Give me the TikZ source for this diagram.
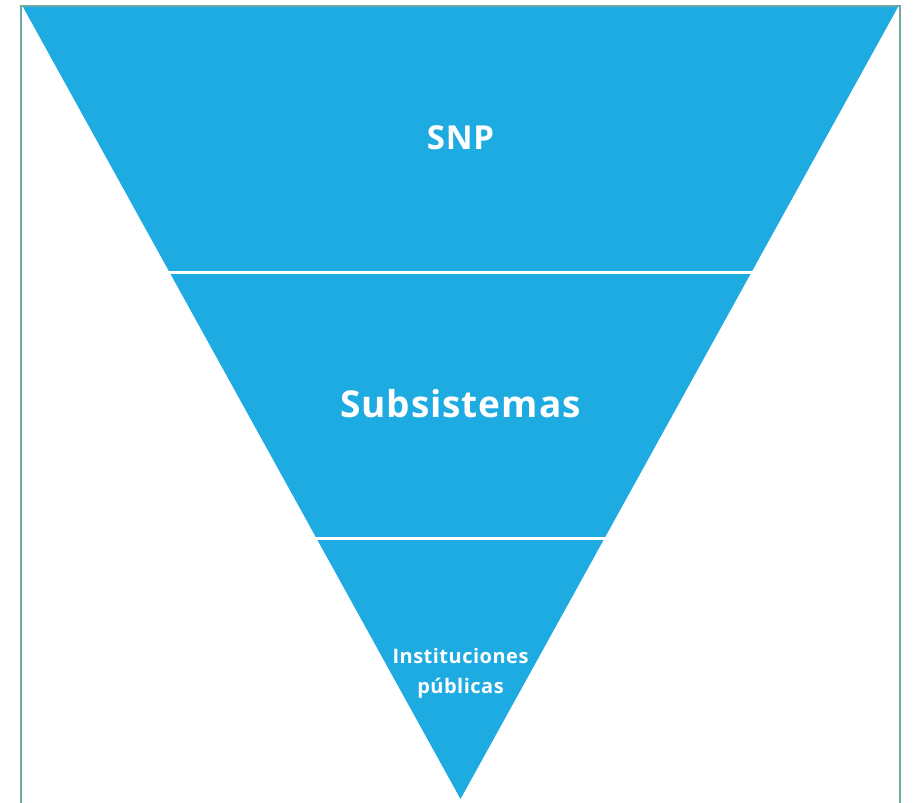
\documentclass[tikz,border=0pt]{standalone}
\usepackage{fontspec}
\setmainfont[LetterSpace=2.5]{Open Sans}
\usetikzlibrary{positioning}
\definecolor{funnel}{RGB}{30,171,226}
\definecolor{framecol}{RGB}{110,168,163}
\tikzstyle{band} = [fill=funnel, draw=none]
\tikzstyle{cut} = [draw=white, line width=3pt]
\tikzstyle{lbl} = [text=white, align=center, inner sep=0pt]

\begin{document}
\begin{tikzpicture}[x=1pt, y=-1pt, node distance=266pt]
      \useasboundingbox (0,0) rectangle (913,803);
      \draw [framecol, line width=2pt] (21,830) -- (21,6) -- (900,6) -- (900,830);

      \coordinate (topl) at (23,7);
      \coordinate (topr) at (898,7);
      \coordinate (apex) at (460.5,799);
      \fill [band] (topl) -- (topr) -- (apex) -- cycle;

      \coordinate (cut1l) at (169.4,272);
      \coordinate (cut1r) at (751.6,272);
      \coordinate (cut2l) at (316.3,538);
      \coordinate (cut2r) at (604.7,538);
      \draw [cut] (cut1l) -- (cut1r);
      \draw [cut] (cut2l) -- (cut2r);

      \node (snp) [lbl, font=\bfseries\fontsize{33}{40}\selectfont] at (460.5,138) {SNP};
      \node (subs) [lbl, below of=snp, font=\bfseries\fontsize{37}{42}\selectfont] {Subsistemas};
      \node (inst) [lbl, below of=subs, yshift=-3pt, font=\bfseries\fontsize{20}{30}\selectfont] {Instituciones\\públicas};
    \end{tikzpicture}
\end{document}
